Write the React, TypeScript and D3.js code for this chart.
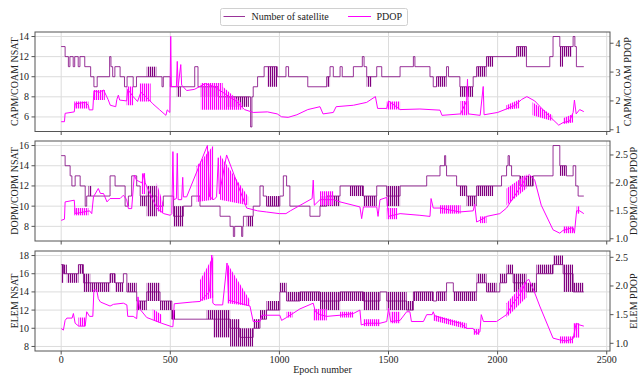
import React from "react";
import * as d3 from "d3";

// ---------------- data ----------------
const EPOCH_TICKS = [0, 500, 1000, 1500, 2000, 2500];

// Panel 1 : CAPM/COAM
const CAPM_NSAT_TICKS = [6, 8, 10, 12, 14];
const CAPM_PDOP_TICKS = [1, 2, 3, 4];
const CAPM_NSAT: [number, number][] = [
  [0, 13], [18, 12], [33, 11], [40, 12], [55, 11], [62, 12], [78, 11], [86, 12], [108, 11], [135, 10], [150, 9], [165, 10],
  [222, 12], [228, 11], [236, 10], [246, 11], [270, 10], [290, 9], [302, 10], [330, 9], [345, 10], [436, 10], [462, 9],
  [468, 10], [500, 9], [612, 11], [627, 9], [720, 8], [868, 5], [874, 8], [880, 9], [900, 10], [930, 11], [990, 10],
  [1030, 11], [1042, 10], [1130, 9], [1217, 10], [1232, 11], [1247, 10], [1278, 11], [1288, 10], [1339, 11], [1380, 12],
  [1388, 11], [1400, 10], [1446, 11], [1469, 10], [1553, 11], [1614, 12], [1621, 11], [1690, 10], [1705, 9], [1720, 10],
  [1766, 11], [1775, 10], [1827, 9], [1888, 10], [1904, 11], [1949, 12], [2087, 13], [2132, 11], [2239, 12], [2254, 14],
  [2285, 13], [2346, 14], [2354, 13], [2361, 11], [2395, 11],
];
const CAPM_NSAT_DENSE: [number, number, number, number][] = [
  [392, 436, 10, 11], [530, 548, 8, 9], [640, 720, 8, 9], [760, 860, 7, 8], [945, 990, 9, 11], [1217, 1232, 9, 10],
  [1400, 1423, 9, 10], [1720, 1766, 9, 10], [1827, 1888, 8, 9], [1904, 1949, 10, 11], [1949, 1980, 11, 12],
  [2087, 2132, 12, 13], [2285, 2300, 11, 13], [2300, 2340, 12, 13],
];
const CAPM_PDOP: [number, number][] = [
  [0, 1.28], [15, 1.28], [18, 1.57], [60, 1.62], [64, 1.9], [110, 1.95], [125, 1.85], [128, 1.69], [145, 1.69], [150, 2.35],
  [175, 2.3], [194, 2.38], [215, 2.05], [225, 1.85], [250, 1.8], [255, 2.05], [262, 2.2], [268, 2.03], [300, 2.0], [305, 2.4],
  [330, 2.15], [350, 1.98], [365, 2.3], [395, 2.1], [420, 1.9], [450, 1.7], [480, 1.5], [486, 1.69], [498, 1.6], [502, 4.24],
  [505, 2.5], [528, 2.5], [532, 3.37], [536, 2.5], [548, 3.26], [552, 2.55], [575, 2.36], [610, 2.4], [660, 2.6], [700, 2.5],
  [740, 2.3], [800, 2.0], [840, 1.7], [880, 1.6], [945, 1.62], [990, 1.55], [1010, 1.45], [1040, 1.43], [1080, 1.52],
  [1130, 1.7], [1186, 1.8], [1200, 1.55], [1247, 1.6], [1260, 1.8], [1339, 1.85], [1400, 1.95], [1440, 2.15], [1450, 1.74],
  [1492, 1.74], [1500, 2.0], [1553, 1.7], [1644, 1.72], [1736, 1.68], [1745, 1.5], [1830, 1.55], [1858, 2.0], [1862, 2.75],
  [1866, 1.55], [1920, 1.5], [1934, 2.5], [1938, 1.52], [2000, 1.6], [2040, 1.72], [2080, 1.85], [2110, 2.05], [2134, 2.15],
  [2170, 2.0], [2220, 1.6], [2254, 1.35], [2280, 1.16], [2300, 1.25], [2330, 1.3], [2346, 1.6], [2352, 2.03], [2360, 1.55],
  [2376, 1.7], [2395, 1.63],
];
const CAPM_PDOP_DENSE: [number, number, number, number, number, number][] = [
  [60, 125, 1.74, 1.98, 1.74, 1.98], [150, 200, 2.03, 2.38, 2.03, 2.38], [300, 330, 1.85, 2.5, 1.85, 2.5],
  [360, 410, 1.98, 2.6, 1.98, 2.6], [640, 740, 1.69, 2.62, 1.69, 2.62], [740, 830, 1.69, 2.5, 1.69, 1.9],
  [1492, 1553, 1.7, 1.98, 1.7, 1.98], [1830, 1866, 1.5, 2.0, 1.5, 2.0], [2040, 2100, 1.7, 1.85, 1.75, 2.05],
  [2160, 2250, 1.5, 1.95, 1.3, 1.5], [2300, 2346, 1.2, 1.4, 1.25, 1.55],
];

// Panel 2 : DOPM/COPM
const DOPM_NSAT_TICKS = [8, 10, 12, 14, 16];
const DOPM_PDOP_TICKS = [1.0, 1.5, 2.0, 2.5];
const DOPM_NSAT: [number, number][] = [
  [0, 15], [18, 14], [41, 13], [49, 12], [64, 13], [87, 12], [110, 10], [117, 11], [224, 13], [247, 12], [293, 10],
  [308, 11], [323, 13], [346, 12], [362, 11], [438, 10], [468, 11], [515, 9], [560, 10], [598, 11], [636, 10], [728, 9],
  [774, 8], [789, 7], [795, 8], [827, 7], [832, 8], [835, 9], [880, 10], [911, 12], [926, 11], [941, 10], [1002, 11],
  [1018, 13], [1033, 12], [1048, 10], [1140, 9], [1186, 10], [1217, 11], [1278, 12], [1385, 11], [1446, 12], [1492, 11],
  [1553, 12], [1675, 13], [1736, 14], [1757, 15], [1762, 14], [1766, 13], [1812, 12], [1858, 11], [1904, 12], [2018, 13],
  [2041, 14], [2048, 15], [2054, 14], [2064, 13], [2102, 12], [2163, 13], [2254, 16], [2285, 14], [2315, 13], [2346, 14],
  [2358, 12], [2369, 11], [2395, 11],
];
const DOPM_NSAT_DENSE: [number, number, number, number][] = [
  [125, 140, 11, 12], [362, 392, 10, 11], [392, 438, 9, 12], [515, 560, 8, 10], [850, 880, 8, 9], [941, 1002, 10, 11],
  [1186, 1278, 10, 11], [1323, 1385, 11, 12], [1385, 1446, 10, 11], [1492, 1553, 10, 12], [1827, 1858, 11, 12],
  [1858, 1904, 10, 11], [1904, 1980, 11, 12], [2102, 2163, 12, 13], [2285, 2315, 13, 14],
];
const DOPM_PDOP: [number, number][] = [
  [0, 1.33], [15, 1.35], [18, 1.66], [60, 1.69], [64, 1.45], [130, 1.5], [140, 1.45], [148, 1.75], [170, 1.9], [180, 1.81],
  [194, 1.81], [210, 1.66], [224, 1.72], [270, 1.72], [285, 1.78], [300, 1.7], [308, 1.54], [323, 1.54], [335, 2.14],
  [345, 2.05], [370, 2.0], [380, 2.17], [385, 2.0], [438, 1.55], [470, 1.45], [500, 1.42], [507, 1.45], [512, 2.56],
  [516, 1.7], [528, 1.72], [532, 2.53], [536, 1.7], [552, 1.7], [557, 2.1], [560, 1.75], [575, 1.75], [670, 2.67],
  [680, 1.75], [700, 1.7], [712, 1.75], [720, 2.45], [725, 1.8], [758, 2.5], [840, 1.65], [850, 1.55], [900, 1.5],
  [940, 1.48], [1000, 1.45], [1030, 1.45], [1050, 1.5], [1150, 1.72], [1155, 2.05], [1160, 1.6], [1186, 1.7], [1247, 1.7],
  [1278, 1.66], [1369, 1.57], [1377, 1.36], [1385, 1.57], [1446, 1.57], [1452, 1.4], [1461, 1.7], [1492, 1.74], [1500, 1.4],
  [1553, 1.45], [1644, 1.42], [1690, 1.4], [1695, 1.72], [1705, 1.55], [1736, 1.55], [1827, 1.48], [1888, 1.5], [1895, 1.62],
  [1904, 1.3], [1919, 1.33], [1949, 1.4], [2010, 1.45], [2041, 1.55], [2100, 1.9], [2132, 2.1], [2145, 2.15], [2170, 2.05],
  [2200, 1.6], [2254, 1.16], [2285, 1.1], [2300, 1.15], [2346, 1.2], [2352, 1.1], [2362, 1.5], [2376, 1.5], [2395, 1.45],
];
const DOPM_PDOP_DENSE: [number, number, number, number, number, number][] = [
  [60, 125, 1.42, 1.55, 1.42, 1.55], [370, 385, 1.8, 2.17, 1.8, 2.17], [438, 470, 1.5, 2.0, 1.45, 1.6],
  [621, 697, 1.66, 2.3, 1.7, 2.67], [728, 857, 1.7, 2.5, 1.6, 1.75], [1186, 1247, 1.6, 1.85, 1.6, 1.85],
  [1492, 1540, 1.35, 1.55, 1.35, 1.55], [1736, 1830, 1.45, 1.6, 1.45, 1.6], [1919, 1949, 1.28, 1.4, 1.28, 1.4],
  [2041, 2132, 1.6, 1.9, 1.9, 2.15], [2300, 2346, 1.1, 1.22, 1.1, 1.22], [2362, 2376, 1.45, 1.58, 1.45, 1.58],
];

// Panel 3 : ELEM
const ELEM_NSAT_TICKS = [8, 10, 12, 14, 16, 18];
const ELEM_PDOP_TICKS = [1.0, 1.5, 2.0, 2.5];
const ELEM_NSAT: [number, number][] = [
  [0, 17], [11, 16], [79, 17], [102, 15], [224, 16], [247, 15], [285, 16], [301, 14], [346, 13], [392, 14], [453, 13],
  [507, 11], [697, 11], [774, 10], [819, 9], [880, 10], [911, 11], [941, 12], [1002, 14], [1033, 13], [1094, 14],
  [1186, 13], [1278, 14], [1385, 13], [1461, 14], [1492, 13], [1583, 12], [1614, 14], [1705, 13], [1720, 14], [1766, 15],
  [1797, 14], [1904, 15], [1949, 14], [2010, 15], [2041, 16], [2071, 15], [2132, 14], [2178, 16], [2254, 17], [2300, 16],
  [2346, 14], [2395, 14],
];
const ELEM_NSAT_DENSE: [number, number, number, number][] = [
  [0, 11, 15, 17], [11, 26, 16, 17], [26, 79, 15, 16], [79, 102, 16, 17], [102, 133, 14, 16], [133, 224, 14, 15],
  [224, 247, 15, 16], [247, 285, 14, 15], [301, 346, 14, 15], [346, 392, 12, 13], [392, 453, 13, 15], [453, 507, 12, 13],
  [507, 522, 11, 12], [667, 697, 11, 12], [697, 774, 9, 12], [774, 819, 8, 11], [819, 880, 8, 10], [880, 911, 10, 11],
  [911, 941, 11, 12], [941, 1002, 12, 13], [1002, 1033, 14, 15], [1033, 1186, 13, 14], [1186, 1278, 12, 14],
  [1278, 1385, 13, 14], [1385, 1461, 12, 14], [1492, 1583, 12, 14], [1583, 1614, 12, 13], [1614, 1705, 13, 14],
  [1720, 1766, 13, 14], [1797, 1904, 13, 14], [1904, 1949, 15, 16], [1949, 1995, 14, 15], [2010, 2041, 15, 16],
  [2041, 2071, 16, 17], [2071, 2132, 14, 16], [2132, 2178, 14, 15], [2178, 2254, 16, 17], [2254, 2300, 17, 18],
  [2300, 2346, 14, 17], [2346, 2395, 14, 15],
];
const ELEM_PDOP: [number, number][] = [
  [0, 1.26], [10, 1.23], [18, 1.4], [26, 1.44], [50, 1.44], [56, 1.52], [64, 1.35], [80, 1.3], [110, 1.3], [117, 1.55],
  [130, 1.47], [145, 1.47], [150, 1.93], [163, 1.93], [170, 1.78], [180, 1.72], [224, 1.65], [240, 1.68], [285, 1.7],
  [301, 1.67], [305, 1.47], [330, 1.47], [346, 1.43], [352, 1.81], [360, 1.6], [392, 1.45], [420, 1.41], [460, 1.35],
  [507, 1.29], [512, 1.29], [518, 1.69], [600, 1.72], [636, 1.73], [680, 1.9], [690, 2.54], [695, 1.7], [705, 1.67],
  [740, 1.67], [760, 2.4], [768, 1.75], [865, 1.65], [880, 1.38], [911, 1.38], [920, 1.49], [1002, 1.49], [1010, 1.4],
  [1033, 1.45], [1094, 1.6], [1155, 1.7], [1165, 1.55], [1186, 1.5], [1217, 1.47], [1278, 1.49], [1339, 1.52], [1369, 1.58],
  [1375, 1.32], [1400, 1.35], [1461, 1.35], [1492, 1.38], [1500, 1.61], [1510, 1.38], [1553, 1.4], [1583, 1.55],
  [1598, 1.55], [1605, 1.38], [1660, 1.38], [1675, 1.5], [1700, 1.5], [1705, 1.55], [1712, 1.48], [1797, 1.38],
  [1830, 1.35], [1858, 1.26], [1888, 1.26], [1904, 1.17], [1919, 1.2], [1925, 1.5], [1935, 1.38], [1995, 1.38],
  [2041, 1.5], [2071, 1.7], [2102, 1.85], [2132, 2.08], [2142, 2.12], [2163, 1.95], [2193, 1.65], [2254, 1.09],
  [2285, 1.06], [2315, 1.04], [2346, 1.08], [2360, 1.35], [2376, 1.32], [2395, 1.3],
];
const ELEM_PDOP_DENSE: [number, number, number, number, number, number][] = [
  [79, 110, 1.3, 1.45, 1.3, 1.45], [420, 460, 1.4, 1.6, 1.35, 1.5], [636, 700, 1.73, 2.1, 1.8, 2.54],
  [760, 865, 1.7, 2.4, 1.65, 1.75], [1033, 1060, 1.45, 1.55, 1.45, 1.55], [1155, 1217, 1.4, 1.6, 1.4, 1.6],
  [1278, 1339, 1.45, 1.55, 1.45, 1.55], [1385, 1461, 1.3, 1.42, 1.3, 1.42], [1510, 1553, 1.35, 1.55, 1.35, 1.55],
  [1705, 1858, 1.4, 1.5, 1.25, 1.35], [1888, 1919, 1.15, 1.25, 1.15, 1.25], [2041, 2132, 1.45, 1.7, 1.8, 2.1],
  [2285, 2346, 1.0, 1.12, 1.0, 1.12], [2346, 2376, 1.1, 1.35, 1.1, 1.35],
];

const LEGEND_LABELS = ["Number of satellite", "PDOP"];

// ---------------- styles ----------------
const PURPLE = "#800080";
const MAGENTA = "#ff00ff";
const FONT = "'Liberation Serif', 'DejaVu Serif', serif";
const W = 639;
const H = 375;
const X_LEFT = 35;
const X_RIGHT = 610;

const xScale = d3.scaleLinear().domain([-120, 2515]).range([X_LEFT, X_RIGHT]);

type PanelProps = {
  id: string;
  top: number;
  bottom: number;
  nsat: [number, number][];
  nsatDense: [number, number, number, number][];
  pdop: [number, number][];
  pdopDense: [number, number, number, number, number, number][];
  leftDomain: [number, number];
  rightDomain: [number, number];
  leftTicks: number[];
  rightTicks: number[];
  rightFmt: (v: number) => string;
  leftLabel: string;
  rightLabel: string;
  rightLabelX: number;
  showX: boolean;
};

function Panel(p: PanelProps) {
  const yL = d3.scaleLinear().domain(p.leftDomain).range([p.bottom, p.top]);
  const yR = d3.scaleLinear().domain(p.rightDomain).range([p.bottom, p.top]);
  const stepLine = d3
    .line<[number, number]>()
    .x((d) => xScale(d[0]))
    .y((d) => yL(d[1]))
    .curve(d3.curveStepAfter);
  const pLine = d3
    .line<[number, number]>()
    .x((d) => xScale(d[0]))
    .y((d) => yR(d[1]));
  const clipId = `clip-${p.id}`;
  const midY = (p.top + p.bottom) / 2;
  return (
    <g>
      <defs>
        <clipPath id={clipId}>
          <rect x={X_LEFT} y={p.top} width={X_RIGHT - X_LEFT} height={p.bottom - p.top} />
        </clipPath>
      </defs>
      {EPOCH_TICKS.map((t) => (
        <line key={`gx${t}`} x1={xScale(t)} x2={xScale(t)} y1={p.top} y2={p.bottom} stroke="#dcdcdc" strokeWidth={1} />
      ))}
      {p.leftTicks.map((t) => (
        <line key={`gy${t}`} x1={X_LEFT} x2={X_RIGHT} y1={yL(t)} y2={yL(t)} stroke="#dcdcdc" strokeWidth={1} />
      ))}
      <g clipPath={`url(#${clipId})`}>
        {p.nsatDense.map((b, i) => (
          <rect
            key={`nb${i}`}
            x={xScale(b[0])}
            width={xScale(b[1]) - xScale(b[0])}
            y={yL(b[3])}
            height={yL(b[2]) - yL(b[3])}
            fill="url(#stripePurple)"
          />
        ))}
        <path d={stepLine(p.nsat) || ""} fill="none" stroke={PURPLE} strokeOpacity={0.8} strokeWidth={1} />
        {p.pdopDense.map((b, i) => (
          <polygon
            key={`pb${i}`}
            points={[
              [xScale(b[0]), yR(b[3])],
              [xScale(b[1]), yR(b[5])],
              [xScale(b[1]), yR(b[4])],
              [xScale(b[0]), yR(b[2])],
            ]
              .map((q) => q.join(","))
              .join(" ")}
            fill="url(#stripePink)"
          />
        ))}
        <path d={pLine(p.pdop) || ""} fill="none" stroke={MAGENTA} strokeWidth={1} />
      </g>
      <rect x={X_LEFT} y={p.top} width={X_RIGHT - X_LEFT} height={p.bottom - p.top} fill="none" stroke="#555" strokeWidth={1} />
      {p.leftTicks.map((t) => (
        <g key={`lt${t}`}>
          <line x1={X_LEFT - 3.5} x2={X_LEFT} y1={yL(t)} y2={yL(t)} stroke="#555" />
          <text x={X_LEFT - 6} y={yL(t)} textAnchor="end" dominantBaseline="central" fontSize={10} fontFamily={FONT} fill="#222">
            {t}
          </text>
        </g>
      ))}
      {p.rightTicks.map((t) => (
        <g key={`rt${t}`}>
          <line x1={X_RIGHT} x2={X_RIGHT + 3.5} y1={yR(t)} y2={yR(t)} stroke="#555" />
          <text x={X_RIGHT + 5.5} y={yR(t)} textAnchor="start" dominantBaseline="central" fontSize={10} fontFamily={FONT} fill="#222">
            {p.rightFmt(t)}
          </text>
        </g>
      ))}
      {EPOCH_TICKS.map((t) => (
        <g key={`bt${t}`}>
          <line x1={xScale(t)} x2={xScale(t)} y1={p.bottom} y2={p.bottom + 3.5} stroke="#555" />
          {p.showX && (
            <text x={xScale(t)} y={p.bottom + 8} textAnchor="middle" dominantBaseline="central" fontSize={10} fontFamily={FONT} fill="#222">
              {t}
            </text>
          )}
        </g>
      ))}
      <text
        transform={`translate(14,${midY}) rotate(-90)`}
        textAnchor="middle"
        dominantBaseline="central"
        fontSize={10}
        fontFamily={FONT}
        fill="#222"
      >
        {p.leftLabel}
      </text>
      <text
        transform={`translate(${p.rightLabelX},${midY}) rotate(-90)`}
        textAnchor="middle"
        dominantBaseline="central"
        fontSize={10}
        fontFamily={FONT}
        fill="#222"
      >
        {p.rightLabel}
      </text>
    </g>
  );
}

export default function App() {
  const f0 = (v: number) => d3.format("d")(v);
  const f1 = (v: number) => d3.format(".1f")(v);
  return (
    <svg width={W} height={H} style={{ position: "absolute", left: 0, top: 0, background: "#fff" }}>
      <defs>
        <pattern id="stripePurple" width={2} height={4} patternUnits="userSpaceOnUse">
          <rect x={0} y={0} width={1.2} height={4} fill={PURPLE} />
        </pattern>
        <pattern id="stripePink" width={2} height={4} patternUnits="userSpaceOnUse">
          <rect x={0} y={0} width={1.2} height={4} fill={MAGENTA} />
        </pattern>
      </defs>
      <rect x={0} y={0} width={W} height={H} fill="#fff" />
      <Panel
        id="p1"
        top={32}
        bottom={131.5}
        nsat={CAPM_NSAT}
        nsatDense={CAPM_NSAT_DENSE}
        pdop={CAPM_PDOP}
        pdopDense={CAPM_PDOP_DENSE}
        leftDomain={[4.55, 14.45]}
        rightDomain={[0.94, 4.39]}
        leftTicks={CAPM_NSAT_TICKS}
        rightTicks={CAPM_PDOP_TICKS}
        rightFmt={f0}
        leftLabel="CAPM/COAM NSAT"
        rightLabel="CAPM/COAM PDOP"
        rightLabelX={627}
        showX={false}
      />
      <Panel
        id="p2"
        top={141}
        bottom={241}
        nsat={DOPM_NSAT}
        nsatDense={DOPM_NSAT_DENSE}
        pdop={DOPM_PDOP}
        pdopDense={DOPM_PDOP_DENSE}
        leftDomain={[6.55, 16.45]}
        rightDomain={[0.96, 2.75]}
        leftTicks={DOPM_NSAT_TICKS}
        rightTicks={DOPM_PDOP_TICKS}
        rightFmt={f1}
        leftLabel="DOPM/COPM NSAT"
        rightLabel="DOPM/COPM PDOP"
        rightLabelX={633}
        showX={false}
      />
      <Panel
        id="p3"
        top={251}
        bottom={351}
        nsat={ELEM_NSAT}
        nsatDense={ELEM_NSAT_DENSE}
        pdop={ELEM_PDOP}
        pdopDense={ELEM_PDOP_DENSE}
        leftDomain={[7.5, 18.5]}
        rightDomain={[0.866, 2.61]}
        leftTicks={ELEM_NSAT_TICKS}
        rightTicks={ELEM_PDOP_TICKS}
        rightFmt={f1}
        leftLabel="ELEM NSAT"
        rightLabel="ELEM PDOP"
        rightLabelX={633}
        showX={true}
      />
      <text x={(X_LEFT + X_RIGHT) / 2} y={369} textAnchor="middle" dominantBaseline="central" fontSize={10} fontFamily={FONT} fill="#222">
        Epoch number
      </text>
      <rect x={220.5} y={8.5} width={187} height={17} rx={2} fill="#fff" stroke="#d0d0d0" strokeWidth={1} />
      <line x1={223.5} x2={245} y1={16.5} y2={16.5} stroke={PURPLE} strokeOpacity={0.8} strokeWidth={1} />
      <text x={251.5} y={16.8} dominantBaseline="central" fontSize={10} fontFamily={FONT} fill="#222">
        {LEGEND_LABELS[0]}
      </text>
      <line x1={348} x2={371} y1={16.5} y2={16.5} stroke={MAGENTA} strokeWidth={1} />
      <text x={376.5} y={16.8} dominantBaseline="central" fontSize={10} fontFamily={FONT} fill="#222">
        {LEGEND_LABELS[1]}
      </text>
    </svg>
  );
}
